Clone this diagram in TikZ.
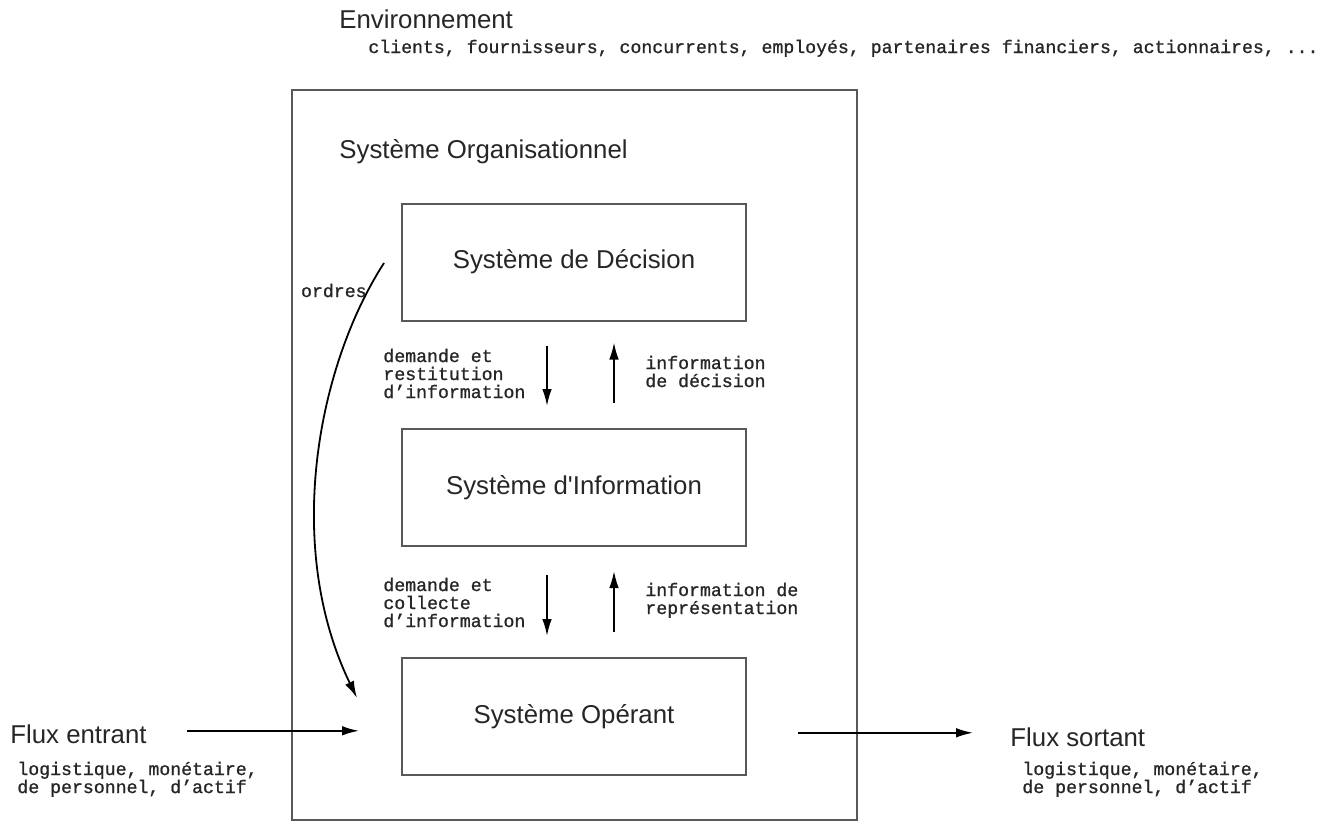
\documentclass[tikz,border=0pt]{standalone}
\usepackage{fontspec}
\setmainfont{Liberation Sans}[Ligatures=TeXOff]
\newfontfamily\monofont{Liberation Mono}[FakeBold=1]
\usetikzlibrary{arrows.meta,calc}

\tikzset{
    sysbox/.style={draw=black!65, line width=1pt, minimum width=172pt,
        minimum height=58.5pt, inner sep=0pt, text=black!85, font=\fontsize{12.9}{15}\selectfont},
    titre/.style={inner sep=0pt, text=black!85, font=\fontsize{12.9}{15}\selectfont},
    legende/.style={inner sep=0pt, align=left, text=black!85, font=\monofont\fontsize{9.1}{9}\selectfont},
    fleche/.style={-{Latex[length=8.5pt,width=4.8pt]}, line width=0.9pt},
}

\begin{document}
\begin{tikzpicture}[x=0.5pt,y=-0.5pt]
        \useasboundingbox (0,0) rectangle (1337,821);
        % environnement
        \node[titre, anchor=base west] (envt) at (339,28) {Environnement};
        \node[legende, anchor=base west] (acteurs) at (368,53)
            {clients, fournisseurs, concurrents, employés, partenaires financiers, actionnaires, ...};
        % systeme organisationnel
        \node[draw=black!65, line width=1pt, minimum width=282.5pt, minimum height=365pt,
            inner sep=0pt] (orga) at (574.5,455) {};
        \node[titre, anchor=base west] (orgat) at (339,158) {Système Organisationnel};
        \node[sysbox] (dec) at (574,262) {Système de Décision};
        \node[sysbox] (info) at (574,487.5) {Système d'Information};
        \node[sysbox] (oper) at (574,716.5) {Système Opérant};
        % echanges decision / information
        \draw[fleche] ($(dec.south)+(-27,24)$) -- ($(info.north)+(-27,-22)$);
        \draw[fleche] ($(info.north)+(40,-25)$) -- ($(dec.south)+(40,21)$);
        \node[legende, anchor=base west] (dem1) at (383,398) {demande et\\restitution\\d’information};
        \node[legende, anchor=base west] (inf1) at (645,387) {information\\de décision};
        % echanges information / operant
        \draw[fleche] ($(info.south)+(-27,28)$) -- ($(oper.north)+(-27,-21)$);
        \draw[fleche] ($(oper.north)+(40,-25)$) -- ($(info.south)+(40,24)$);
        \node[legende, anchor=base west] (dem2) at (383,627) {demande et\\collecte\\d’information};
        \node[legende, anchor=base west] (inf2) at (645,614) {information de\\représentation};
        % ordres
        \draw[fleche] ($(dec.west)+(-17,1)$) .. controls (318,365) and (283,545) .. ($(oper.west)+(-44,-18.5)$);
        \node[legende, anchor=base east] (ordres) at (367,297) {ordres};
        % flux
        \node[titre, anchor=base west] (fin) at (10,743) {Flux entrant};
        \node[legende, anchor=base west] (finl) at (17,793) {logistique, monétaire,\\de personnel, d’actif};
        \node[titre, anchor=base west] (fout) at (1010,746) {Flux sortant};
        \node[legende, anchor=base west] (foutl) at (1022,793) {logistique, monétaire,\\de personnel, d’actif};
        \draw[fleche] ($(fin.east)+(40,-3)$) -- ($(oper.west |- fin.east)+(-42,-3)$);
        \draw[fleche] ($(oper.east |- fout.west)+(51,-4)$) -- ($(fout.west)+(-37,-4)$);
\end{tikzpicture}
\end{document}
